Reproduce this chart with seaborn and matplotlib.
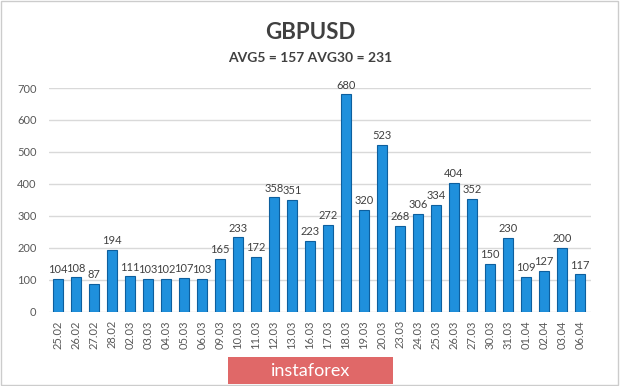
import matplotlib
matplotlib.use("Agg")
import matplotlib.pyplot as plt
import seaborn as sns
import pandas as pd
from matplotlib.patches import Rectangle

dates = ["25.02", "26.02", "27.02", "28.02", "02.03", "03.03", "04.03", "05.03", "06.03", "09.03",
         "10.03", "11.03", "12.03", "13.03", "16.03", "17.03", "18.03", "19.03", "20.03", "23.03",
         "24.03", "25.03", "26.03", "27.03", "30.03", "31.03", "01.04", "02.04", "03.04", "06.04"]
values = [104, 108, 87, 194, 111, 103, 102, 107, 103, 165,
          233, 172, 358, 351, 223, 272, 680, 320, 523, 268,
          306, 334, 404, 352, 150, 230, 109, 127, 200, 117]
yticks = [0, 100, 200, 300, 400, 500, 600, 700]

df = pd.DataFrame({"date": dates, "range": values})

sns.set_style("white")
plt.rcParams["font.family"] = ["Lato", "DejaVu Sans"]
fig = plt.figure(figsize=(6.2, 3.86), dpi=100)
ax = fig.add_axes([0.079, 0.192, 0.874, 0.580])

sns.barplot(data=df, x="date", y="range", color="#1f90dc", width=0.55,
            edgecolor="#0d5f9e", linewidth=0.8, saturation=1, ax=ax)

for i, v in enumerate(values):
    ax.text(i, v + 12, str(v), ha="center", va="bottom", fontsize=8, color="#404040")

ax.set_xlim(-0.5, 29.6)
ax.set_ylim(0, 700)
ax.set_yticks(yticks)
ax.yaxis.grid(True, color="#d9d9d9", linewidth=1)
ax.set_axisbelow(True)
for s in ax.spines.values():
    s.set_visible(False)
ax.set_xlabel("")
ax.set_ylabel("")
ax.tick_params(axis="y", labelsize=8, colors="#595959", length=0, pad=9)
ax.tick_params(axis="x", labelsize=8, colors="#595959", length=0, pad=6)
plt.setp(ax.get_xticklabels(), rotation=90)

fig.text(0.5, 0.917, "GBPUSD", ha="center", va="center", fontsize=16, fontweight="bold", color="#404040")
fig.text(0.5, 0.85, "AVG5 = 157 AVG30 = 231", ha="center", va="center", fontsize=10,
         fontweight="bold", color="#404040")

# watermark box
fig.patches.append(Rectangle((0.368, 0.005), 0.266, 0.07, transform=fig.transFigure,
                             facecolor="#e06868", edgecolor="none"))
fig.text(0.501, 0.04, "instaforex", ha="center", va="center", fontsize=13, color="white")

# thin border
fig.patches.append(Rectangle((0.002, 0.003), 0.995, 0.994, transform=fig.transFigure,
                             facecolor="none", edgecolor="#cccccc", linewidth=1))

fig.savefig("out.png", dpi=100)
